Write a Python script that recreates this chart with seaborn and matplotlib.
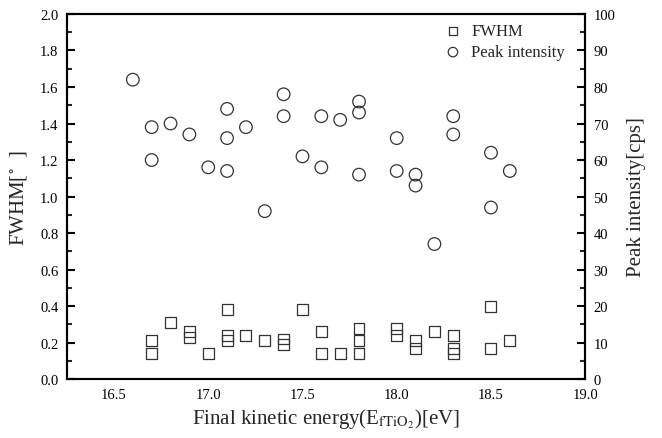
import matplotlib
matplotlib.use("Agg")
import matplotlib.pyplot as plt
from matplotlib.ticker import MultipleLocator
import seaborn as sns
import pandas as pd

# FWHM data (left axis)
fwhm_energy = [16.7, 16.7, 16.8, 16.9, 16.9, 17.0, 17.1, 17.1, 17.1, 17.2, 17.3,
               17.4, 17.4, 17.5, 17.6, 17.6, 17.7, 17.8, 17.8, 17.8, 18.0, 18.0,
               18.1, 18.1, 18.2, 18.3, 18.3, 18.3, 18.5, 18.5, 18.6]
fwhm_values = [0.21, 0.14, 0.31, 0.26, 0.23, 0.14, 0.38, 0.24, 0.21, 0.24, 0.21,
               0.22, 0.19, 0.38, 0.26, 0.14, 0.14, 0.28, 0.21, 0.14, 0.28, 0.24,
               0.21, 0.17, 0.26, 0.24, 0.17, 0.14, 0.40, 0.17, 0.21]

# Peak intensity data (right axis)
peak_energy = [16.6, 16.7, 16.7, 16.8, 16.9, 17.0, 17.1, 17.1, 17.1, 17.2, 17.3,
               17.4, 17.4, 17.5, 17.6, 17.6, 17.7, 17.8, 17.8, 17.8, 18.0, 18.0,
               18.1, 18.1, 18.2, 18.3, 18.3, 18.5, 18.5, 18.6]
peak_values = [82, 69, 60, 70, 67, 58, 74, 66, 57, 69, 46,
               78, 72, 61, 72, 58, 71, 76, 73, 56, 66, 57,
               56, 53, 37, 72, 67, 62, 47, 57]

x_ticks = [16.5, 17.0, 17.5, 18.0, 18.5, 19.0]

sns.set_theme(style="white")
plt.rcParams['font.family'] = ['Liberation Serif', 'DejaVu Serif']
plt.rcParams['mathtext.fontset'] = 'stix'

df_f = pd.DataFrame({"E": fwhm_energy, "FWHM": fwhm_values})
df_p = pd.DataFrame({"E": peak_energy, "Peak": peak_values})

fig = plt.figure(figsize=(6.62, 4.39), dpi=100)
ax = fig.add_axes([0.101, 0.134, 0.783, 0.832])
ax2 = ax.twinx()

edge = "#333333"
sns.scatterplot(data=df_f, x="E", y="FWHM", ax=ax, marker="s", s=62,
                facecolor="none", edgecolor=edge, linewidth=0.9, label="FWHM", legend=False)
sns.scatterplot(data=df_p, x="E", y="Peak", ax=ax2, marker="o", s=82,
                facecolor="none", edgecolor=edge, linewidth=0.9, label="Peak intensity", legend=False)

ax.set_xlim(16.25, 19.0)
ax.set_ylim(0.0, 2.0)
ax2.set_ylim(0, 100)
ax.set_xticks(x_ticks)
ax.set_xticklabels([f"{v:.1f}" for v in x_ticks])
ax.xaxis.set_minor_locator(MultipleLocator(0.25))
ax.yaxis.set_major_locator(MultipleLocator(0.2))
ax.yaxis.set_minor_locator(MultipleLocator(0.1))
ax2.yaxis.set_major_locator(MultipleLocator(10))
ax2.yaxis.set_minor_locator(MultipleLocator(5))

for a in (ax, ax2):
    for sp in a.spines.values():
        sp.set_visible(True)
        sp.set_color("black")
        sp.set_linewidth(1.5)
    a.grid(False)
ax.tick_params(axis="both", which="major", direction="in", length=6, width=1.5,
               labelsize=10.5, colors="black", pad=6)
ax.tick_params(axis="both", which="minor", direction="in", length=3.5, width=1.5)
ax.tick_params(axis="x", which="both", top=False)
ax.tick_params(axis="y", which="both", right=False)
ax2.tick_params(axis="y", which="major", direction="in", length=6, width=1.5,
                labelsize=10.5, colors="black", pad=6)
ax2.tick_params(axis="y", which="minor", direction="in", length=3.5, width=1.5)

ax.set_xlabel(r"Final kinetic energy(E$_{\mathrm{fTiO_2}}$)[eV]", fontsize=15, labelpad=4)
ax.set_ylabel(r"FWHM[$^{\circ}$  ]", fontsize=15, labelpad=8)
ax2.set_ylabel("Peak intensity[cps]", fontsize=15, labelpad=8)

h1, l1 = ax.get_legend_handles_labels()
h2, l2 = ax2.get_legend_handles_labels()
leg = ax2.legend(h1 + h2, l1 + l2, loc="upper right", bbox_to_anchor=(0.99, 1.015),
                 frameon=False, fontsize=12, handlelength=1.0, handletextpad=0.6,
                 labelspacing=0.3, markerscale=0.75)

fig.savefig("out.png", dpi=100)
